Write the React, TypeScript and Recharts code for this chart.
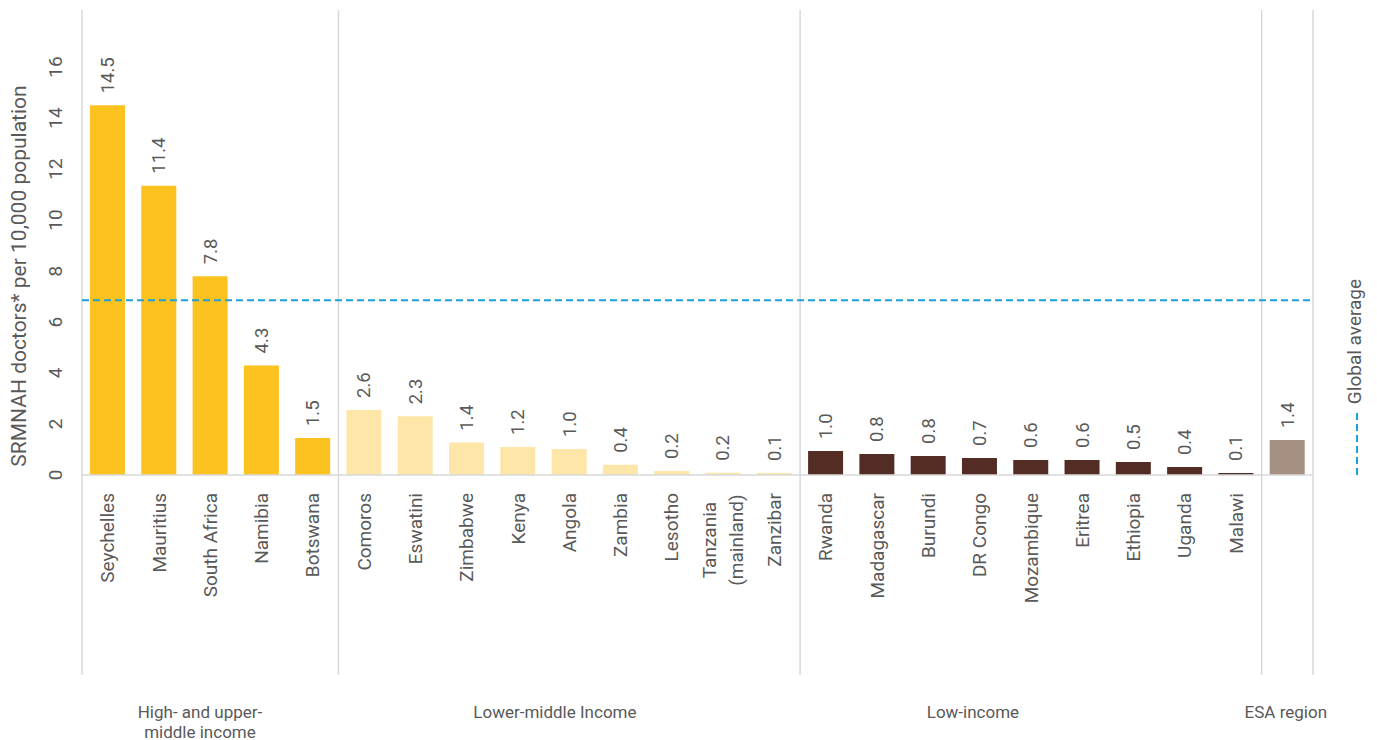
import React from 'react';
import { BarChart, Bar, XAxis, YAxis, Cell, LabelList, ReferenceLine } from 'recharts';

// ---------- data ----------
const countries = [
  'Seychelles', 'Mauritius', 'South Africa', 'Namibia', 'Botswana',
  'Comoros', 'Eswatini', 'Zimbabwe', 'Kenya', 'Angola', 'Zambia', 'Lesotho', 'Tanzania (mainland)', 'Zanzibar',
  'Rwanda', 'Madagascar', 'Burundi', 'DR Congo', 'Mozambique', 'Eritrea', 'Ethiopia', 'Uganda', 'Malawi',
  'ESA region',
];
const tickLabels = [
  'Seychelles', 'Mauritius', 'South Africa', 'Namibia', 'Botswana',
  'Comoros', 'Eswatini', 'Zimbabwe', 'Kenya', 'Angola', 'Zambia', 'Lesotho', 'Tanzania\n(mainland)', 'Zanzibar',
  'Rwanda', 'Madagascar', 'Burundi', 'DR Congo', 'Mozambique', 'Eritrea', 'Ethiopia', 'Uganda', 'Malawi',
  '',
];
const doctorsPer10k = [
  14.5, 11.35, 7.8, 4.3, 1.45,
  2.55, 2.3, 1.27, 1.1, 1.02, 0.4, 0.16, 0.09, 0.08,
  0.94, 0.82, 0.75, 0.67, 0.59, 0.59, 0.51, 0.31, 0.08,
  1.37,
];
const valueLabels = [
  '14.5', '11.4', '7.8', '4.3', '1.5',
  '2.6', '2.3', '1.4', '1.2', '1.0', '0.4', '0.2', '0.2', '0.1',
  '1.0', '0.8', '0.8', '0.7', '0.6', '0.6', '0.5', '0.4', '0.1',
  '1.4',
];
const incomeGroupIndex = [
  0, 0, 0, 0, 0,
  1, 1, 1, 1, 1, 1, 1, 1, 1,
  2, 2, 2, 2, 2, 2, 2, 2, 2,
  3,
];
const incomeGroups = ['High- and upper-\nmiddle income', 'Lower-middle Income', 'Low-income', 'ESA region'];
// where each group caption sits, in category units from the left edge
const groupLabelAt = [2.3, 9.22, 17.37, 23.47];
// first category index of each group (a separator line at its left edge), plus the right edge
const groupStarts = [0, 5, 14, 23];
const globalAverage = 6.85;
const yTicks = [0, 2, 4, 6, 8, 10, 12, 14, 16];
const yLabel = 'SRMNAH doctors* per 10,000 population';
const legendLabel = 'Global average';

// ---------- style ----------
const groupColors = ['#FCC21F', '#FDE6A8', '#532D24', '#A69082'];
const TEXT = '#595959';
const GRID = '#D9D9D9';
const BLUE = '#1CA0DC';
const FONT = 'Roboto, "Noto Sans", sans-serif';

const W = 1361;
const H = 740;
const M_LEFT = 74;
const M_RIGHT = 56;
const BAND = (W - M_LEFT - M_RIGHT) / countries.length;

const data = countries.map((name, i) => ({
  name,
  value: doctorsPer10k[i],
  label: valueLabels[i],
  group: incomeGroupIndex[i],
}));

const YTick = (props: any) => {
  const { x, y, payload } = props;
  const cx = x - 27;
  return (
    <text x={cx} y={y} dy="0.35em" textAnchor="middle" transform={`rotate(-90, ${cx}, ${y})`}
      fill={TEXT} fontSize={19} fontFamily={FONT}>
      {payload.value}
    </text>
  );
};

const XTick = (props: any) => {
  const { x, y, index } = props;
  const label = tickLabels[index] ?? '';
  if (!label) return null;
  const lines = label.split('\n');
  const top = y + 18;
  const lh = 27;
  if (lines.length === 1) {
    return (
      <text x={x} y={top} dy="0.35em" textAnchor="end" transform={`rotate(-90, ${x}, ${top})`}
        fill={TEXT} fontSize={19} fontFamily={FONT}>
        {label}
      </text>
    );
  }
  const maxLen = Math.max(...lines.map((l) => l.length));
  const cy = top + maxLen * 4.7;
  return (
    <g>
      {lines.map((l, i) => {
        const lx = x + (i - (lines.length - 1) / 2) * lh;
        return (
          <text key={i} x={lx} y={cy} dy="0.35em" textAnchor="middle" transform={`rotate(-90, ${lx}, ${cy})`}
            fill={TEXT} fontSize={19} fontFamily={FONT}>
            {l}
          </text>
        );
      })}
    </g>
  );
};

const GroupTick = (props: any) => {
  const { x, y, index } = props;
  const g = groupLabelAt.findIndex((p) => Math.floor(p) === index);
  if (g < 0) return null;
  const gx = x + (groupLabelAt[g] - index - 0.5) * BAND;
  const lines = incomeGroups[g].split('\n');
  return (
    <text x={gx} y={y + 37} textAnchor="middle" fill={TEXT} fontSize={17} fontFamily={FONT}>
      {lines.map((l, i) => (
        <tspan key={i} x={gx} dy={i === 0 ? '0.35em' : 20}>{l}</tspan>
      ))}
    </text>
  );
};

const ValueLabel = (props: any) => {
  const { x, y, width, value } = props;
  const cx = x + width / 2;
  const cy = y - 12;
  return (
    <text x={cx} y={cy} dy="0.35em" textAnchor="start" transform={`rotate(-90, ${cx}, ${cy})`}
      fill={TEXT} fontSize={18.5} fontFamily={FONT}>
      {value}
    </text>
  );
};

const SeparatorShape = (props: any) => {
  const { x1, y1, x2, y2 } = props;
  const top = Math.min(y1, y2);
  const bottom = Math.max(y1, y2) + 200;
  return <line x1={x1} x2={x2} y1={top} y2={bottom} stroke={GRID} strokeWidth={1.5} />;
};

export default function App() {
  return (
    <div style={{ position: 'relative', width: W, height: H }}>
      <BarChart width={W} height={H} data={data} margin={{ top: 2, right: M_RIGHT, left: 0, bottom: 0 }}
        barSize={35}>
        <XAxis dataKey="name" height={200} interval={0} tick={<XTick />} tickSize={0} tickMargin={0}
          tickLine={false} axisLine={{ stroke: GRID, strokeWidth: 1.5 }} />
        <XAxis xAxisId="grp" dataKey="name" height={73} interval={0} axisLine={false} tickLine={false}
          tickSize={0} tickMargin={0} tick={<GroupTick />} />
        <YAxis width={M_LEFT} domain={[0, 18.24]} ticks={yTicks} interval={0} axisLine={false}
          tickLine={false} tickSize={0} tickMargin={0} tick={<YTick />} allowDataOverflow />
        {groupStarts.map((b) => (
          <ReferenceLine key={b} x={countries[b]} position="start" ifOverflow="visible" shape={<SeparatorShape />} />
        ))}
        <ReferenceLine x={countries[countries.length - 1]} position="end" ifOverflow="visible"
          shape={<SeparatorShape />} />
        <Bar dataKey="value" isAnimationActive={false}>
          {data.map((d, i) => (
            <Cell key={i} fill={groupColors[d.group]} />
          ))}
          <LabelList dataKey="label" content={<ValueLabel />} />
        </Bar>
        <ReferenceLine y={globalAverage} stroke={BLUE} strokeWidth={2} strokeDasharray="7 4" />
      </BarChart>
      <svg width={W} height={H} style={{ position: 'absolute', left: 0, top: 0, pointerEvents: 'none', overflow: 'visible' }}>
        <text x={11} y={268} dy="0.35em" textAnchor="middle" transform="rotate(-90, 11, 268)"
          fill={TEXT} fontSize={21} fontFamily={FONT}>
          {yLabel}
        </text>
        <line x1={1349} x2={1349} y1={405} y2={469} stroke={BLUE} strokeWidth={2} strokeDasharray="7 4" />
        <text x={1346.5} y={333.5} dy="0.35em" textAnchor="middle" transform="rotate(-90, 1346.5, 333.5)"
          fill={TEXT} fontSize={19} fontFamily={FONT}>
          {legendLabel}
        </text>
      </svg>
    </div>
  );
}
